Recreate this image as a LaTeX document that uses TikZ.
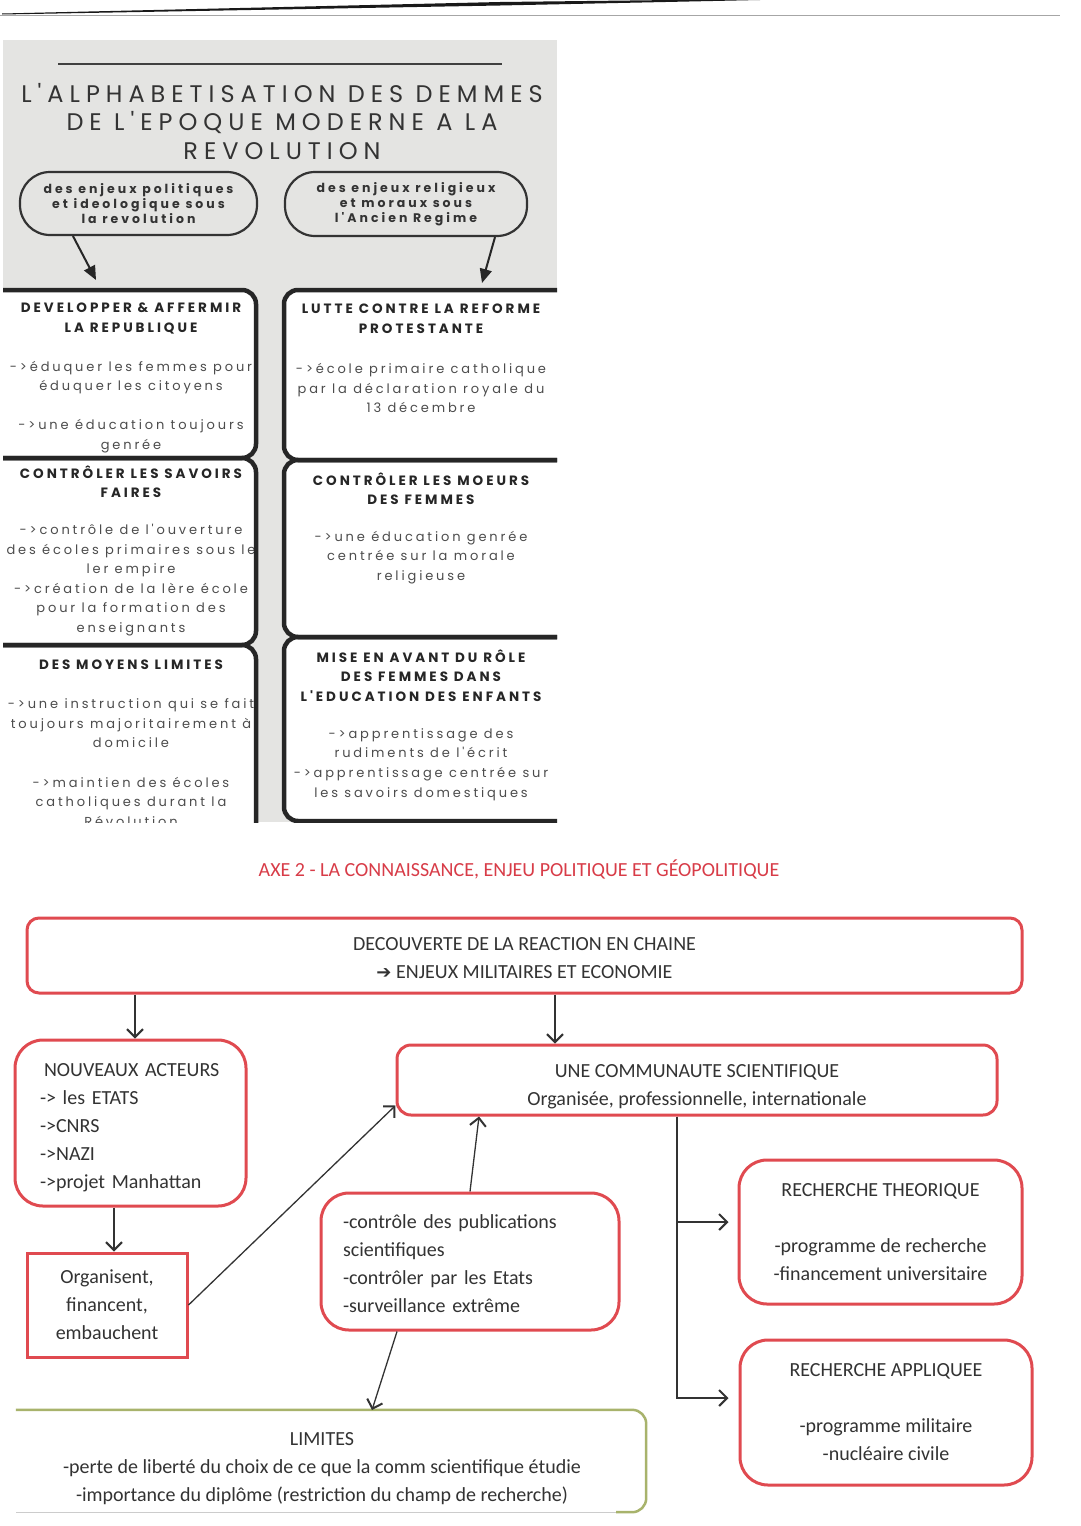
\documentclass[tikz,border=0pt]{standalone}
\usepackage{fontspec}
\setmainfont{Carlito}
\newfontfamily\geofont[LetterSpace=22]{Poppins}
\newfontfamily\headfont[LetterSpace=22]{Poppins}
\newfontfamily\bubblefont[LetterSpace=24]{Poppins}
\newfontfamily\titlefont[LetterSpace=25]{Poppins}
\newfontfamily\symfont{DejaVu Sans}
\usetikzlibrary{arrows.meta}

\definecolor{panelgrey}{HTML}{E4E4E2}
\definecolor{boxred}{HTML}{E04A50}
\definecolor{axered}{HTML}{D83C48}
\definecolor{limolive}{HTML}{A8B36C}
\definecolor{inkgrey}{HTML}{333333}

\begin{document}
\begin{tikzpicture}[x=1pt,y=-1pt,
    panelline/.style={draw=black!85,line width=4.5pt,rounded corners=14pt},
    bubble/.style={draw=black!80,fill=panelgrey,line width=2.2pt,rounded corners=30pt,align=center,
        text=black!80,font=\bubblefont\bfseries\fontsize{12.5}{15}\selectfont},
    pointer/.style={draw=black!85,line width=2pt,-{Triangle[length=14pt,width=12pt]}},
    headtext/.style={align=center,text=black!85,font=\headfont\bfseries\fontsize{13.5}{19.5}\selectfont},
    bodytext/.style={align=center,text=black!70,font=\geofont\fontsize{13}{19.6}\selectfont},
    redbox/.style={draw=boxred,line width=3pt,rounded corners=28pt,align=center,text=inkgrey,
        font=\fontsize{20}{28}\selectfont},
    link/.style={draw=inkgrey,line width=1.3pt,-{Straight Barb[length=8pt,width=16pt,line width=2pt]}}]

    \useasboundingbox (0,0) rectangle (1080,1526);
    \fill[white] (0,0) rectangle (1080,1526);

    % scan edge at the top of the page
    \fill[black!90] (2,14.5) -- (500,5.5) -- (760,0) -- (760,-1) -- (500,2) -- (2,13.5) -- cycle;
    \draw[black!35,line width=1pt] (0,15) -- (1060,15);

    % ---------- grey panel ----------
    \fill[panelgrey] (3,40) rectangle (557,822);
    \draw[black!75,line width=2pt] (58,64) -- (502,64);
    \node[align=center,text=black!80,font=\titlefont\fontsize{24}{28.5}\selectfont] (title) at (282,121.5)
        {L'ALPHABETISATION DES DEMMES\\DE L'EPOQUE MODERNE A LA\\REVOLUTION};

    % the two bubbles
    \node[bubble,minimum width=237pt,minimum height=63pt] (politique) at (138.5,203.5)
        {des enjeux politiques\\et ideologique sous\\la revolution};
    \node[bubble,minimum width=242pt,minimum height=64pt] (religieux) at (406,204)
        {des enjeux religieux\\et moraux sous\\l'Ancien Regime};
    \coordinate (repTip) at (96,280);
    \coordinate (refTip) at (482,283);
    \draw[pointer] ([xshift=-65.5pt]politique.south) -- (repTip);
    \draw[pointer] ([xshift=89pt]religieux.south) -- (refTip);

    \begin{scope}
    \clip (3,40) rectangle (557,822);
    % white boxes
    \fill[white,rounded corners=14pt] (-20,290) -- (256,290) -- (256,458) -- (-20,458) -- cycle;
    \fill[white,rounded corners=14pt] (-20,458) -- (256,458) -- (256,645) -- (-20,645) -- cycle;
    \fill[white,rounded corners=14pt] (-20,645) -- (256,645) -- (256,860) -- (-20,860) -- cycle;
    \fill[white,rounded corners=14pt] (580,290) -- (284,290) -- (284,460) -- (580,460) -- cycle;
    \fill[white,rounded corners=14pt] (580,460) -- (284,460) -- (284,637) -- (580,637) -- cycle;
    \fill[white,rounded corners=14pt] (580,637) -- (284,637) -- (284,821) -- (580,821) -- cycle;

    % left column
    \node[headtext] (repHead) at (131,318.5) {DEVELOPPER \& AFFERMIR\\LA REPUBLIQUE};
    \node[bodytext] (repBody) at (131,407)
        {->éduquer les femmes pour\\éduquer les citoyens\\[19.6pt]->une éducation toujours\\genrée};
    \node[headtext] (savHead) at (131,481.5) {CONTRÔLER LES SAVOIRS\\FAIRES};
    \node[bodytext] (savBody) at (131,580)
        {->contrôle de l'ouverture\\des écoles primaires sous le\\ler empire\\->création de la lère école\\pour la formation des\\enseignants};
    \node[headtext] (moyHead) at (131,665) {DES MOYENS LIMITES};
    \node[bodytext] (moyBody) at (131,762.5)
        {->une instruction qui se fait\\toujours majoritairement à\\domicile\\[19.6pt]->maintien des écoles\\catholiques durant la\\Révolution};

    % right column
    \node[headtext] (refHead) at (421,318.5) {LUTTE CONTRE LA REFORME\\PROTESTANTE};
    \node[bodytext] (refBody) at (421,388)
        {->école primaire catholique\\par la déclaration royale du\\13 décembre};
    \node[headtext] (moeHead) at (421,488.5) {CONTRÔLER LES MOEURS\\DES FEMMES};
    \node[bodytext] (moeBody) at (421,557.5)
        {->une éducation genrée\\centrée sur la morale\\religieuse};
    \node[headtext] (roleHead) at (421,675.5) {MISE EN AVANT DU RÔLE\\DES FEMMES DANS\\L'EDUCATION DES ENFANTS};
    \node[bodytext] (roleBody) at (421,764.5)
        {->apprentissage des\\rudiments de l'écrit\\->apprentissage centrée sur\\les savoirs domestiques};

    % box borders
    \draw[panelline] (-10,290) -- (256,290) -- (256,458) -- (-10,458);
    \draw[panelline] (-10,458) -- (256,458) -- (256,645) -- (-10,645);
    \draw[panelline] (-10,645) -- (256,645) -- (256,840);
    \draw[panelline] (570,290) -- (284,290) -- (284,460) -- (570,460);
    \draw[panelline] (570,460) -- (284,460) -- (284,637) -- (570,637);
    \draw[panelline] (570,637) -- (284,637) -- (284,821) -- (570,821);
    \end{scope}

    % ---------- AXE 2 ----------
    \node[text=axered,font=\fontsize{20}{22}\selectfont] (axe) at (519,869)
        {AXE 2 - LA CONNAISSANCE, ENJEU POLITIQUE ET GÉOPOLITIQUE};

    \node[redbox,rounded corners=12pt,minimum width=995pt,minimum height=75pt] (chaine) at (524.5,955.5)
        {\rule{0pt}{19pt}DECOUVERTE DE LA REACTION EN CHAINE\\{\symfont\bfseries\fontsize{18}{18}\selectfont ➔} ENJEUX MILITAIRES ET ECONOMIE};
    \node[redbox,align=left,text width=181pt,inner xsep=25pt,minimum height=166pt] (acteurs) at (130.5,1123)
        {\rule{0pt}{23pt}\hspace*{4pt}NOUVEAUX ACTEURS\\-> les ETATS\\->CNRS\\->NAZI\\->projet Manhattan};
    \node[redbox,sharp corners,minimum width=160pt,minimum height=104pt] (orga) at (107,1305)
        {Organisent,\\financent,\\embauchent};
    \node[redbox,rounded corners=14pt,minimum width=600pt,minimum height=70pt] (commu) at (697,1080)
        {\rule{0pt}{27pt}UNE COMMUNAUTE SCIENTIFIQUE\\Organisée, professionnelle, internationale};
    \node[redbox,align=left,text width=254pt,inner xsep=22pt,minimum height=137pt] (controle) at (470,1261.5)
        {\rule{0pt}{18pt}-contrôle des publications\\scientifiques\\-contrôler par les Etats\\-surveillance extrême};
    \node[redbox,minimum width=283pt,minimum height=144pt] (theo) at (880.5,1232)
        {RECHERCHE THEORIQUE\\[28pt]-programme de recherche\\-financement universitaire};
    \node[redbox,minimum width=292pt,minimum height=145pt] (appli) at (886,1412.5)
        {RECHERCHE APPLIQUEE\\[28pt]-programme militaire\\-nucléaire civile};

    % limites: open frame on the left
    \node[minimum width=630pt,minimum height=102pt] (limites) at (331,1461) {};
    \draw[limolive,line width=2.5pt,rounded corners=14pt]
        (limites.north west) -- (limites.north east) -- (limites.south east) -- ([xshift=-30pt]limites.south east);
    \draw[black!20,line width=1pt] ([xshift=-30pt]limites.south east) -- (limites.south west);
    \node[align=center,text=inkgrey,font=\fontsize{20}{28}\selectfont] (limText) at (322,1469)
        {LIMITES\\-perte de liberté du choix de ce que la comm scientifique étudie\\-importance du diplôme (restriction du champ de recherche)};
    \coordinate (limTop) at (372,1410);

    % connectors
    \draw[link] ([xshift=4.5pt]acteurs.north |- chaine.south) -- ([xshift=4.5pt]acteurs.north);
    \draw[link] ([xshift=-142pt]commu.north |- chaine.south) -- ([xshift=-142pt]commu.north);
    \draw[link] ([xshift=7pt]orga.north |- acteurs.south) -- ([xshift=7pt]orga.north);
    \draw[link] (orga.east) -- ([yshift=11pt]commu.south west);
    \draw[link] (controle.north) -- ([xshift=-218pt]commu.south);
    \draw[link] ([xshift=-73pt]controle.south) -- (limTop);
    \draw[link] ([xshift=-20pt]commu.south) |- ([shift={(-9pt,10pt)}]theo.west);
    \draw[link] ([xshift=-20pt]commu.south) |- ([shift={(-10pt,14.5pt)}]appli.west);
\end{tikzpicture}
\end{document}
